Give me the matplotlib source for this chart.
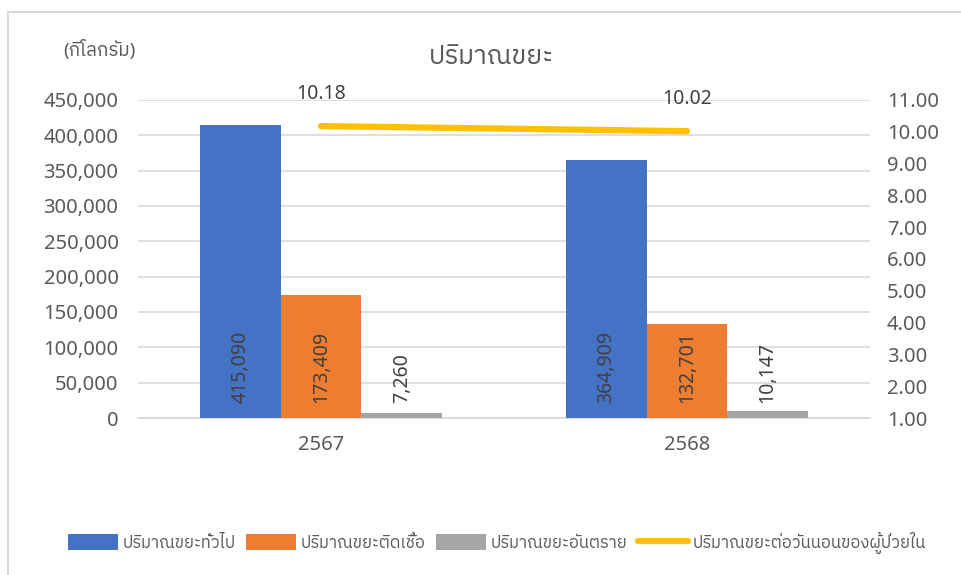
import numpy as np
import matplotlib
matplotlib.use("Agg")
import matplotlib.pyplot as plt
from matplotlib import font_manager
from matplotlib.lines import Line2D

# pick up any font that has Thai glyphs, fall back to Noto/DejaVu
thai = sorted({f.name for f in font_manager.fontManager.ttflist
               if any(k in f.name for k in ("Thai", "Sarabun", "Garuda", "Loma", "Tlwg", "Kinnari", "Norasi"))})
plt.rcParams['font.family'] = ['Noto Sans'] + thai + ['DejaVu Sans']

years = ["2567", "2568"]
general = [415090, 364909]
infected = [173409, 132701]
hazardous = [7260, 10147]
per_bed = [10.18, 10.02]

series_names = ["ปริมาณขยะทั่วไป", "ปริมาณขยะติดเชื้อ", "ปริมาณขยะอันตราย", "ปริมาณขยะต่อวันนอนของผู้ป่วยใน"]
colors = ["#4472C4", "#ED7D31", "#A5A5A5", "#FFC000"]
txt = "#595959"

fig = plt.figure(figsize=(9.61, 5.75), dpi=100)
ax = fig.add_axes([138/961, 1 - 418/575, (870 - 138)/961, (418 - 100)/575])
ax2 = ax.twinx()

x = np.arange(len(years))
w = 0.2207
for i, vals in enumerate([general, infected, hazardous]):
    xs = x + (i - 1) * w
    ax.bar(xs, vals, w, color=colors[i], label=series_names[i], zorder=3)
    for xi, v in zip(xs, vals):
        ax.annotate(f"{v:,}", (xi, 0), xytext=(0, 11), textcoords="offset points",
                    rotation=90, ha="center", va="bottom", fontsize=14, color="#404040", zorder=4)

ax2.plot(x, per_bed, color=colors[3], lw=4.5, solid_capstyle="round", label=series_names[3])
for xi, v in zip(x, per_bed):
    ax2.annotate(f"{v:.2f}", (xi, v), xytext=(0, 16), textcoords="offset points",
                 ha="center", va="bottom", fontsize=14, color="#404040")

ax.set_xlim(-0.5, 1.5)
ax.set_ylim(0, 450000)
ax.set_yticks(np.arange(0, 450001, 50000))
ax.set_yticklabels([f"{v:,}" for v in range(0, 450001, 50000)])
ax2.set_ylim(1, 11)
ax2.set_yticks(np.arange(1, 12))
ax2.set_yticklabels([f"{v:.2f}" for v in range(1, 12)])
ax.set_xticks(x)
ax.set_xticklabels(years)

ax.grid(axis="y", color="#D9D9D9", lw=1.2, zorder=0)
for a in (ax, ax2):
    for s in a.spines.values():
        s.set_visible(False)
    a.tick_params(length=0, labelsize=14.5, labelcolor=txt)
ax.spines["bottom"].set_visible(True)
ax.spines["bottom"].set_color("#D9D9D9")
ax.spines["bottom"].set_linewidth(1.2)
ax.tick_params(axis="y", pad=14)
ax.tick_params(axis="x", pad=12)
ax2.tick_params(axis="y", pad=12)

fig.text(491/961, 1 - 57/575, "ปริมาณขยะ", ha="center", va="center", fontsize=19, color=txt)
fig.text(99/961, 1 - 50/575, "(กิโลกรัม)", ha="center", va="center", fontsize=13.5, color=txt)

h1, l1 = ax.get_legend_handles_labels()
h2, l2 = ax2.get_legend_handles_labels()
fig.legend(h1 + h2, l1 + l2, loc="center", bbox_to_anchor=(497/961, 1 - 543/575), ncol=4,
           frameon=False, fontsize=12, labelcolor=txt, handlelength=3.0, handleheight=1.1,
           columnspacing=0.6, handletextpad=0.3)

# outer chart border (top and left visible)
fig.add_artist(Line2D([8/961, 1], [1 - 12/575] * 2, transform=fig.transFigure, color="#D9D9D9", lw=1.5))
fig.add_artist(Line2D([8/961] * 2, [0, 1 - 12/575], transform=fig.transFigure, color="#D9D9D9", lw=1.5))

fig.savefig("out.png", dpi=100)
